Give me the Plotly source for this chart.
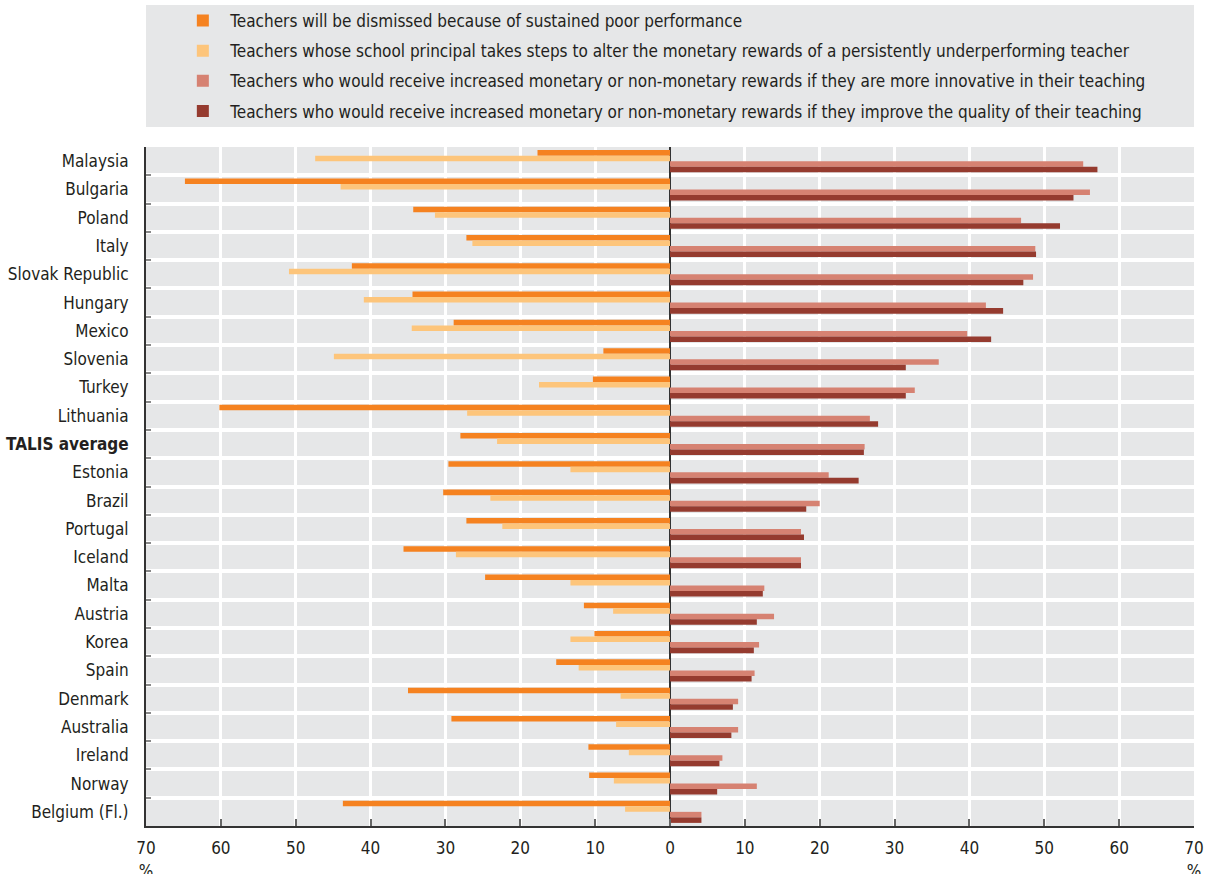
import plotly.graph_objects as go

countries = ["Malaysia", "Bulgaria", "Poland", "Italy", "Slovak Republic", "Hungary", "Mexico",
             "Slovenia", "Turkey", "Lithuania", "TALIS average", "Estonia", "Brazil", "Portugal",
             "Iceland", "Malta", "Austria", "Korea", "Spain", "Denmark", "Australia", "Ireland",
             "Norway", "Belgium (Fl.)"]

dismissed = [17.7, 64.8, 34.3, 27.2, 42.5, 34.4, 28.9, 8.9, 10.3, 60.2, 28.0, 29.6, 30.3, 27.2,
             35.6, 24.7, 11.5, 10.1, 15.2, 35.0, 29.2, 10.9, 10.8, 43.7]
principal = [47.4, 44.0, 31.4, 26.4, 50.9, 40.9, 34.5, 44.9, 17.5, 27.1, 23.1, 13.3, 24.0, 22.4,
             28.6, 13.3, 7.6, 13.3, 12.2, 6.6, 7.2, 5.5, 7.5, 6.0]
innovative = [55.2, 56.1, 46.9, 48.8, 48.5, 42.2, 39.7, 35.9, 32.7, 26.7, 26.0, 21.2, 20.0, 17.5,
              17.5, 12.6, 13.9, 11.9, 11.3, 9.1, 9.1, 7.0, 11.6, 4.2]
quality = [57.1, 53.9, 52.1, 48.9, 47.2, 44.5, 42.9, 31.5, 31.5, 27.8, 25.9, 25.2, 18.2, 17.9,
           17.5, 12.4, 11.6, 11.2, 10.9, 8.4, 8.2, 6.6, 6.3, 4.2]

series_names = [
    "Teachers will be dismissed because of sustained poor performance",
    "Teachers whose school principal takes steps to alter the monetary rewards of a persistently underperforming teacher",
    "Teachers who would receive increased monetary or non-monetary rewards if they are more innovative in their teaching",
    "Teachers who would receive increased monetary or non-monetary rewards if they improve the quality of their teaching",
]
colors = ["#F58220", "#FDC57B", "#D68272", "#953B2F"]

x_ticks = list(range(-70, 71, 10))
x_ticktext = [("70<br>%" if abs(v) == 70 else str(abs(v))) for v in x_ticks]
y_ticktext = [("<b>%s</b>" % c if c == "TALIS average" else c) for c in countries]

FONT = "DejaVu Sans Condensed, Liberation Sans Narrow, Roboto, sans-serif"

fig = go.Figure()
series_values = [[-v for v in dismissed], [-v for v in principal], innovative, quality]
for i, (name, vals, col) in enumerate(zip(series_names, series_values, colors)):
    fig.add_trace(go.Bar(
        y=countries, x=vals, orientation="h", name=name,
        marker=dict(color=col, line=dict(width=0)),
        legendgroup="g%d" % i,
    ))

fig.add_shape(type="rect", xref="paper", yref="paper", x0=0, x1=1, y0=1.0295, y1=1.209,
              fillcolor="#E6E7E8", line=dict(width=0), layer="below")

fig.update_layout(
    width=1207, height=874,
    margin=dict(l=146, r=13, t=147, b=48, autoexpand=False),
    barmode="group", bargap=0.22, bargroupgap=0,
    plot_bgcolor="#E6E7E8", paper_bgcolor="white",
    font=dict(family=FONT, size=17, color="#231F20"),
    showlegend=True,
    legend=dict(x=0.028, y=1.212, xanchor="left", yanchor="top", bgcolor="rgba(0,0,0,0)",
                font=dict(size=17, color="#231F20"), traceorder="grouped",
                tracegroupgap=5, itemclick=False, itemwidth=45),
    xaxis=dict(range=[-70, 70], tickvals=x_ticks, ticktext=x_ticktext, showgrid=True,
               gridcolor="white", gridwidth=3, zeroline=True, zerolinecolor="#333333",
               zerolinewidth=2, showline=True, linecolor="#333333", linewidth=2,
               ticks="inside", ticklen=7, tickcolor="#666666", tickwidth=1.5,
               ticklabelstandoff=6, tickfont=dict(size=17, color="#231F20"), fixedrange=True),
    yaxis=dict(categoryorder="array", categoryarray=countries, autorange="reversed",
               tickvals=countries, ticktext=y_ticktext, tickson="boundaries",
               showgrid=True, gridcolor="white", gridwidth=4, showline=True,
               linecolor="#333333", linewidth=2, ticks="inside", ticklen=5,
               tickcolor="#888888", tickwidth=1.5, ticklabelstandoff=12,
               tickfont=dict(size=17, color="#231F20"), fixedrange=True),
)

fig.write_html("out.html", config={"displayModeBar": False},
               post_script="document.body.style.margin='0';")
